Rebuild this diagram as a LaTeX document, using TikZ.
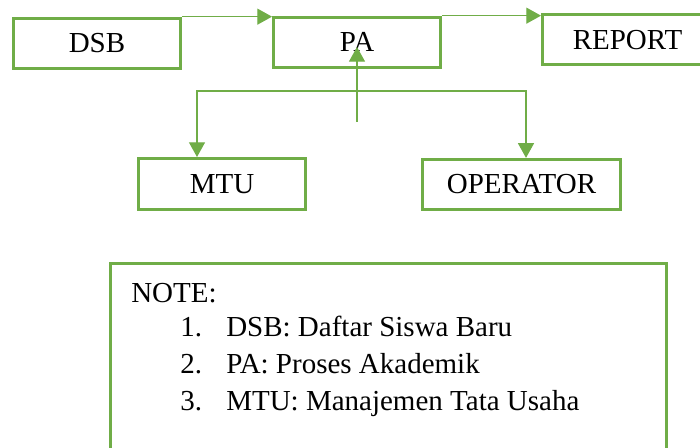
\documentclass[tikz,border=0pt]{standalone}
\usepackage{fontspec}
\setmainfont{Liberation Serif}
\usetikzlibrary{arrows.meta}
\definecolor{officegreen}{HTML}{70AD47}
\begin{document}
\begin{tikzpicture}[x=0.75pt,y=-0.75pt,>={Triangle[length=11pt,width=12pt]},font=\fontsize{21.75pt}{26pt}\selectfont,
box/.style={draw=officegreen,line width=2.25pt,inner sep=0pt,minimum height=37.7pt},
link/.style={draw=officegreen,line width=0.9pt},
notetext/.style={anchor=base west,inner sep=0pt}]
\useasboundingbox (0,0) rectangle (700,448);
\clip (0,0) rectangle (700,448);
\node[box,minimum width=125.25pt] (dsb) at (97,43.3) {DSB};
\node[box,minimum width=125.25pt] (pa) at (357,42.3) {PA};
\node[box,minimum width=127.5pt,minimum height=37.3pt] (report) at (627.5,39.7) {REPORT};
\node[box,minimum width=125.25pt,minimum height=38.25pt] (mtu) at (222,184) {MTU};
\node[box,minimum width=148.5pt] (opr) at (521.5,184.5) {OPERATOR};
\node[box,minimum width=417pt,minimum height=147pt] (note) at (388.5,361.5) {};
\node[notetext] (notetitle) at (131,303) {NOTE:};
\foreach \i/\y/\txt in {1/337/{DSB: Daftar Siswa Baru},2/374/{PA: Proses Akademik},3/411/{MTU: Manajemen Tata Usaha}}{
\node[notetext] (num\i) at (180,\y) {\i.};
\node[notetext] (item\i) at (226,\y) {\txt};
}
\coordinate (hub) at (357,122);
\coordinate (patip) at (357,47);
\coordinate (jl) at (197,91);
\coordinate (jr) at (526,91);
\draw[link,->] (dsb.north east) -- (dsb.north east -| pa.west);
\draw[link,->] (pa.north east) -- (pa.north east -| report.west);
\draw[link,->] (hub) -- (patip);
\draw[link,<->] (jl |- mtu.north) -- (jl) -- (jr) -- (jr |- opr.north);
\end{tikzpicture}
\end{document}
